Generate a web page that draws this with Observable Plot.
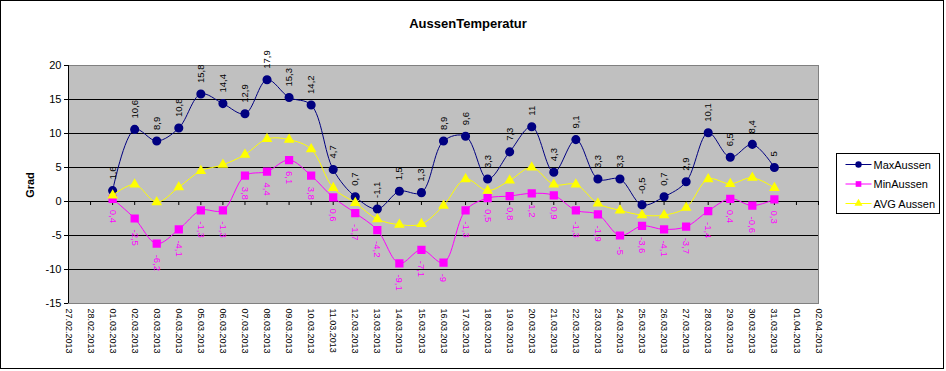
<!DOCTYPE html>
<html><head><meta charset="utf-8">
<script src="https://cdn.jsdelivr.net/npm/d3@7"></script>
<script src="https://cdn.jsdelivr.net/npm/@observablehq/plot@0.6"></script>
<style>
body{margin:0;background:#fff;}
#wrap{position:relative;width:946px;height:371px;overflow:hidden;font-family:"Liberation Sans",Arial,sans-serif;}
#overlay{position:absolute;left:0;top:0;pointer-events:none;}
</style>
</head><body>
<div id="wrap"></div>
<script>
const title = "AussenTemperatur";
const yLabel = "Grad";
const seriesNames = ["MaxAussen", "MinAussen", "AVG Aussen"];
const seriesColors = ["#000080", "#ff00ff", "#ffff00"];
const seriesSymbols = ["circle", "square", "triangle"];
const dates = ["2013-03-01","2013-03-02","2013-03-03","2013-03-04","2013-03-05","2013-03-06","2013-03-07","2013-03-08","2013-03-09","2013-03-10",
  "2013-03-11","2013-03-12","2013-03-13","2013-03-14","2013-03-15","2013-03-16","2013-03-17","2013-03-18","2013-03-19","2013-03-20",
  "2013-03-21","2013-03-22","2013-03-23","2013-03-24","2013-03-25","2013-03-26","2013-03-27","2013-03-28","2013-03-29","2013-03-30","2013-03-31"];
const maxVals = [1.6,10.6,8.9,10.8,15.8,14.4,12.9,17.9,15.3,14.2,4.7,0.7,-1.1,1.5,1.3,8.9,9.6,3.3,7.3,11,4.3,9.1,3.3,3.3,-0.5,0.7,2.9,10.1,6.5,8.4,5];
const minVals = [0.4,-2.5,-6.2,-4.1,-1.3,-1.3,3.8,4.4,6.1,3.8,0.6,-1.7,-4.2,-9.1,-7.1,-9,-1.3,0.5,0.8,1.2,0.9,-1.3,-1.9,-5,-3.6,-4.1,-3.7,-1.4,0.4,-0.6,0.3];
const avgVals = [0.9,2.5,-0.1,2.1,4.5,5.4,6.9,9.2,9.1,7.7,2.0,-0.2,-2.6,-3.4,-3.3,-0.6,3.3,1.6,3.1,5.0,2.5,2.5,-0.3,-1.3,-2.0,-2.0,-0.9,3.3,2.6,3.5,2.0];
const xStart = "2013-02-27", xEnd = "2013-04-02";
const yTicks = [-15,-10,-5,0,5,10,15,20];
const gridVals = [-10,-5,0,5,10,15];

const parse = d3.utcParse("%Y-%m-%d");
const data = dates.map((d,i)=>({date: parse(d), max: maxVals[i], min: minVals[i], avg: avgVals[i]}));
const x0 = parse(xStart), x1 = parse(xEnd);
const days = d3.utcDay.range(x0, d3.utcDay.offset(x1, 1));
const fmtNum = v => String(v).replace(".", ",");

const chart = Plot.plot({
  width: 946, height: 371,
  marginLeft: 68, marginRight: 128, marginTop: 65, marginBottom: 68,
  style: {fontFamily: '"Liberation Sans", Arial, sans-serif', background: "transparent", overflow: "visible"},
  x: {type: "utc", domain: [x0, x1]},
  y: {domain: [-15, 20]},
  marks: [
    Plot.frame({fill: "#c0c0c0", stroke: "#808080"}),
    Plot.ruleY(gridVals, {stroke: "#000", strokeWidth: 1}),
    Plot.ruleX([x0], {stroke: "#000", strokeWidth: 1}),
    Plot.ruleX(days, {x: d => d, y1: 0, y2: 0, insetBottom: -4, stroke: "#000"}),
    Plot.axisY({ticks: yTicks, tickFormat: d => String(d), tickSize: 4, tickPadding: 3, fontSize: 11, label: null, stroke: "#000", color: "#000"}),
    Plot.axisX({ticks: days, tickFormat: d3.utcFormat("%d.%m.%Y"), tickRotate: 90, tickSize: 0, tickPadding: 5, fontSize: 9, label: null, color: "#000"}),
    Plot.line(data, {x: "date", y: "max", stroke: seriesColors[0], strokeWidth: 1, curve: "catmull-rom"}),
    Plot.dot(data, {x: "date", y: "max", fill: seriesColors[0], stroke: seriesColors[0], r: 3.8, symbol: seriesSymbols[0]}),
    Plot.line(data, {x: "date", y: "min", stroke: seriesColors[1], strokeWidth: 1, curve: "catmull-rom"}),
    Plot.dot(data, {x: "date", y: "min", fill: seriesColors[1], stroke: seriesColors[1], r: 3.8, symbol: seriesSymbols[1]}),
    Plot.line(data, {x: "date", y: "avg", stroke: seriesColors[2], strokeWidth: 1, curve: "catmull-rom"}),
    Plot.dot(data, {x: "date", y: "avg", fill: seriesColors[2], stroke: seriesColors[2], r: 3, symbol: seriesSymbols[2]}),
    Plot.text(data, {x: "date", y: "max", text: d => fmtNum(d.max), rotate: -90, textAnchor: "start", dy: -11, fill: "#000", fontSize: 9.5}),
    Plot.text(data, {x: "date", y: "min", text: d => fmtNum(d.min), rotate: 90, textAnchor: "start", dy: 11, fill: "#ff00ff", fontSize: 9.5})
  ]
});
const wrap = document.getElementById("wrap");
wrap.appendChild(chart);

// overlay: title, y label, legend, border
const ov = d3.select(wrap).append("svg").attr("id","overlay").attr("width",946).attr("height",371)
  .style("font-family",'"Liberation Sans", Arial, sans-serif');
ov.append("rect").attr("x",0.5).attr("y",0.5).attr("width",943).attr("height",368).attr("fill","none").attr("stroke","#000");
ov.append("text").attr("x",468).attr("y",28).attr("text-anchor","middle").attr("font-size",13).attr("font-weight","bold").text(title);
ov.append("text").attr("transform","translate(34,185) rotate(-90)").attr("text-anchor","middle").attr("font-size",11).attr("font-weight","bold").text(yLabel);
const lg = ov.append("g").attr("transform","translate(836.5,153.5)");
lg.append("rect").attr("width",103).attr("height",60).attr("fill","#fff").attr("stroke","#000");
seriesNames.forEach((name,i)=>{
  const cy = 11 + i*19.5;
  lg.append("line").attr("x1",9).attr("x2",35).attr("y1",cy).attr("y2",cy).attr("stroke",seriesColors[i]);
  const sym = {circle: d3.symbolCircle, square: d3.symbolSquare, triangle: d3.symbolTriangle}[seriesSymbols[i]];
  const r = i===2 ? 3 : 3.2;
  lg.append("path").attr("transform",`translate(22,${cy})`).attr("d", d3.symbol(sym, Math.PI*r*r)()).attr("fill",seriesColors[i]);
  lg.append("text").attr("x",37).attr("y",cy+4).attr("font-size",11).text(name);
});
</script>
</body></html>
